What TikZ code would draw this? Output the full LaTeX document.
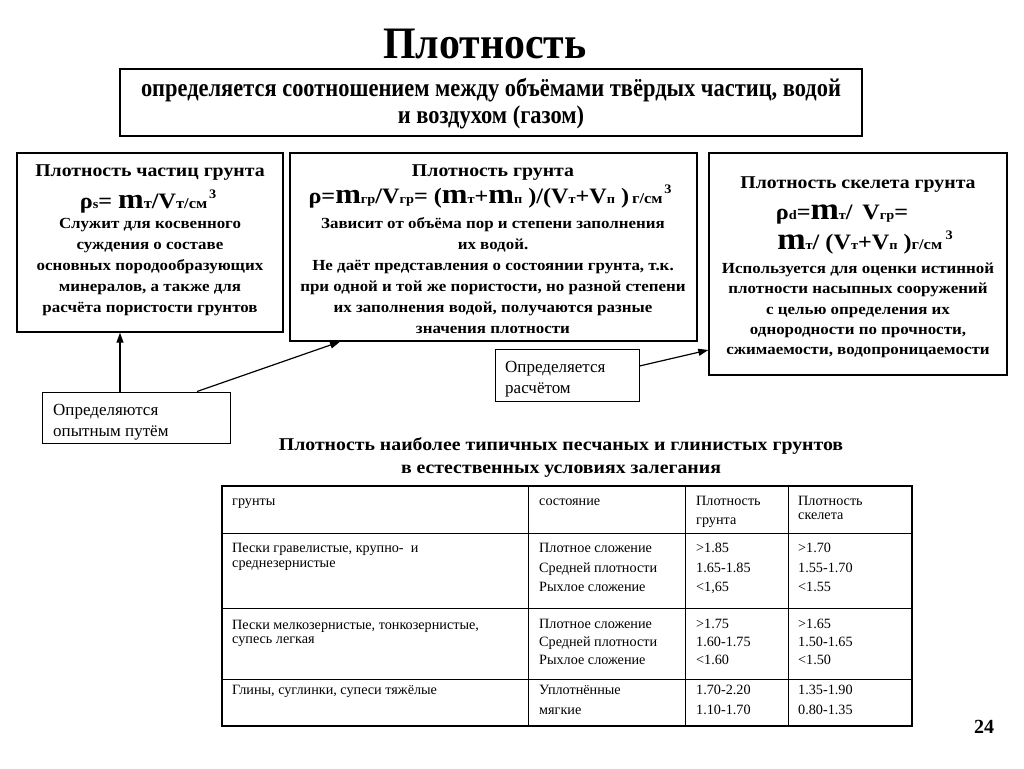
\documentclass[tikz,border=0pt]{standalone}
\usepackage{fontspec}
\setmainfont{Liberation Serif}
\newfontfamily\widef[FakeStretch=1.1]{Liberation Serif}
\newfontfamily\condf[FakeStretch=0.88]{Liberation Serif}
\newfontfamily\titlef[FakeStretch=0.93]{Liberation Serif}
\usetikzlibrary{arrows.meta}
\newcommand\fb[1]{{\fontsize{22}{22}\selectfont #1}}
\newcommand\fm[1]{{\fontsize{28}{28}\selectfont #1}}
\newcommand\fmm[1]{{\fontsize{31}{31}\selectfont #1}}
\newcommand\fs[1]{{\fontsize{13}{13}\selectfont #1}}
\newcommand\fu[1]{{\fontsize{15}{15}\selectfont #1}}
\newcommand\supthree{\raisebox{10pt}{\fontsize{13}{13}\selectfont 3}}
\begin{document}
\begin{tikzpicture}[x=1pt,y=-1pt,
 box/.style={draw, line width=1.4pt, inner sep=0pt},
 sbox/.style={draw, line width=1pt, inner sep=0pt},
 hd/.style={font=\widef\bfseries\fontsize{18}{18}\selectfont, inner sep=0pt},
 fml/.style={font=\widef\bfseries, inner sep=0pt},
 bd/.style={font=\widef\bfseries\fontsize{15.4}{21}\selectfont, align=center, inner sep=0pt},
 tt/.style={font=\fontsize{14.2}{14.2}\selectfont, anchor=base west, inner sep=0pt},
 st/.style={font=\fontsize{17}{17}\selectfont, anchor=base west, inner sep=0pt},
 arr/.style={-{Triangle[length=10pt,width=7pt]}, line width=1.2pt},
 grid/.style={line width=0.9pt}
]
\useasboundingbox (0,0) rectangle (1024,768);
\fill[white] (0,0) rectangle (1024,768);

\node[inner sep=0pt, font=\titlef\bfseries\fontsize{45}{45}\selectfont] (title) at (485,44) {Плотность};

\node[box, minimum width=742pt, minimum height=67pt] (top) at (491,102.5) {};
\node[inner sep=0pt, align=center, font=\condf\bfseries\fontsize{25.5}{27}\selectfont] (toptext) at (491,103.5)
 {определяется соотношением между объёмами твёрдых частиц, водой\\и воздухом (газом)};

% three boxes
\node[box, minimum width=266pt, minimum height=179pt] (bl) at (150,242.5) {};
\node[box, minimum width=407pt, minimum height=188pt] (bm) at (493.5,247) {};
\node[box, minimum width=298pt, minimum height=222pt] (br) at (858,264) {};

% left box
\node[hd] (blh) at (150,173) {Плотность частиц грунта};
\node[fml] (blf) at (148,202) {\fb{ρ}\fs{s}\fb{= }\fm{m}\fu{т}\fb{/V}\fu{т/см}\,\supthree};
\node[bd] (blb) at (150,267.5) {Служит для косвенного\\суждения о составе\\основных породообразующих\\минералов, а также для\\расчёта пористости грунтов};

% middle box
\node[hd] (bmh) at (493,173) {Плотность грунта};
\node[fml] (bmf) at (490,197) {\fb{ρ=}\fm{m}\fs{гр}\fb{/V}\fs{гр}\fb{= (}\fm{m}\fs{т}\fb{+}\fm{m}\fs{п}\fb{ )/(V}\fs{т}\fb{+V}\fs{п}\fb{ )} \fu{г/см}\,\supthree};
\node[bd] (bmb) at (493,275.5) {Зависит от объёма пор и степени заполнения\\их водой.\\Не даёт представления о состоянии грунта, т.к.\\при одной и той же пористости, но разной степени\\их заполнения водой, получаются разные\\значения плотности};

% right box
\node[hd] (brh) at (858,185) {Плотность скелета грунта};
\node[fml] (brf1) at (842,215) {\fb{ρ}\fs{d}\fb{=}\fmm{m}\fs{т}\fb{/\, V}\fs{гр}\fb{=}};
\node[fml] (brf2) at (865,243) {\fmm{m}\fs{т}\fb{/ (V}\fs{т}\fb{+V}\fs{п}\fb{ )}\fu{г/см}\,\,\supthree};
\node[bd, font=\widef\bfseries\fontsize{15.4}{20.2}\selectfont] (brb) at (858,310.5) {Используется для оценки истинной\\плотности насыпных  сооружений\\с целью определения их\\однородности по прочности,\\сжимаемости, водопроницаемости};

% small boxes
\node[sbox, minimum width=188pt, minimum height=51pt] (sl) at (136,417.5) {};
\node[st] (slt1) at (53,415) {Определяются};
\node[st] (slt2) at (53,436) {опытным путём};
\node[sbox, minimum width=144pt, minimum height=52pt] (sr) at (567,375) {};
\node[st] (srt1) at (505,372) {Определяется};
\node[st] (srt2) at (505,393) {расчётом};

% arrows
\draw[arr] ([xshift=-30pt]bl.south |- sl.north) -- ([xshift=-30pt]bl.south);
\draw[arr] ([xshift=61pt]sl.north) -- ([xshift=-153.5pt]bm.south);
\draw[arr] ([yshift=9pt]sr.east) -- ([yshift=-86pt]br.west);

% table title
\node[inner sep=0pt, align=center, font=\widef\bfseries\fontsize{18}{23}\selectfont] (ttl) at (561,457.5) {Плотность наиболее типичных песчаных и глинистых грунтов\\в естественных условиях залегания};

% table
\draw[line width=1.3pt] (222,486) rectangle (912,726);
\draw[grid] (528,486) -- (528,726) (685,486) -- (685,726) (788,486) -- (788,726);
\draw[grid] (222,533) -- (912,533) (222,608) -- (912,608) (222,679) -- (912,679);

\node[tt] (h1) at (232,505) {грунты};
\node[tt] (h2) at (539,505) {состояние};
\node[tt] (h3a) at (696,505) {Плотность};
\node[tt] (h3b) at (696,524) {грунта};
\node[tt] (h4a) at (798,505) {Плотность};
\node[tt] (h4b) at (798,519) {скелета};

\node[tt] (r1a) at (232,552) {Пески гравелистые, крупно-\ \ и};
\node[tt] (r1b) at (232,567) {среднезернистые};
\node[tt] (r1c1) at (539,552) {Плотное сложение};
\node[tt] (r1c2) at (539,572) {Средней плотности};
\node[tt] (r1c3) at (539,591) {Рыхлое сложение};
\node[tt] (r1d1) at (696,552) {>1.85};
\node[tt] (r1d2) at (696,572) {1.65-1.85};
\node[tt] (r1d3) at (696,591) {<1,65};
\node[tt] (r1e1) at (798,552) {>1.70};
\node[tt] (r1e2) at (798,572) {1.55-1.70};
\node[tt] (r1e3) at (798,591) {<1.55};

\node[tt] (r2a) at (232,629) {Пески мелкозернистые, тонкозернистые,};
\node[tt] (r2b) at (232,643) {супесь легкая};
\node[tt] (r2c1) at (539,628) {Плотное сложение};
\node[tt] (r2c2) at (539,646) {Средней плотности};
\node[tt] (r2c3) at (539,664) {Рыхлое сложение};
\node[tt] (r2d1) at (696,628) {>1.75};
\node[tt] (r2d2) at (696,646) {1.60-1.75};
\node[tt] (r2d3) at (696,664) {<1.60};
\node[tt] (r2e1) at (798,628) {>1.65};
\node[tt] (r2e2) at (798,646) {1.50-1.65};
\node[tt] (r2e3) at (798,664) {<1.50};

\node[tt] (r3a) at (232,694) {Глины, суглинки, супеси тяжёлые};
\node[tt] (r3c1) at (539,694) {Уплотнённые};
\node[tt] (r3c2) at (539,714) {мягкие};
\node[tt] (r3d1) at (696,694) {1.70-2.20};
\node[tt] (r3d2) at (696,714) {1.10-1.70};
\node[tt] (r3e1) at (798,694) {1.35-1.90};
\node[tt] (r3e2) at (798,714) {0.80-1.35};

\node[inner sep=0pt, font=\bfseries\fontsize{20}{20}\selectfont] (pg) at (984,727) {24};
\end{tikzpicture}
\end{document}
